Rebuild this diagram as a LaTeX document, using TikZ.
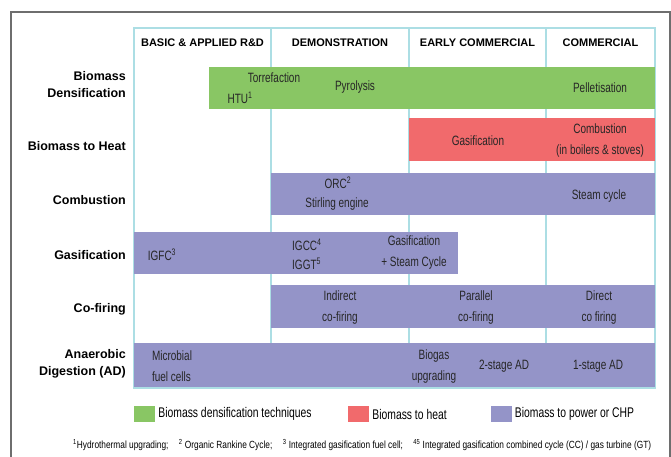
\documentclass[tikz,border=0pt]{standalone}
\usepackage{fontspec}
\setmainfont{Liberation Sans}
\newfontfamily\narrowsf{Liberation Sans}[FakeStretch=0.74]
\newfontfamily\notesf{Liberation Sans}[FakeStretch=0.8]
\usetikzlibrary{positioning}
\definecolor{densgreen}{RGB}{137,198,100}
\definecolor{heatred}{RGB}{241,106,108}
\definecolor{powerblue}{RGB}{148,148,200}
\definecolor{gridcyan}{RGB}{172,222,228}
\definecolor{framegray}{RGB}{110,110,110}
\begin{document}
\begin{tikzpicture}[x=1pt,y=-1pt,
  rowlabel/.style={anchor=east,align=right,inner sep=0pt,font=\bfseries\fontsize{12.5}{17}\selectfont},
  colhead/.style={inner sep=0pt,font=\bfseries\fontsize{11}{13}\selectfont},
  bartext/.style={align=center,inner sep=0pt,text=black!85,font=\narrowsf\fontsize{13.5}{21}\selectfont},
  legsq/.style={inner sep=0pt,minimum width=21pt,minimum height=16pt},
  legtext/.style={inner sep=0pt,anchor=west,font=\narrowsf\fontsize{14}{15}\selectfont}]
\useasboundingbox (0,0) rectangle (671,457);
% frame and grid
\draw[framegray,line width=1.2pt](11,457)--(11,12)--(670,12)--(670,457);
\draw[gridcyan,line width=1.6pt](134,28)rectangle(655,388);
\foreach \x in {271,409,546}
  \draw[gridcyan,line width=1.6pt](\x,28)--(\x,388);
% column heads
\node[colhead](hdrRD)    at (202.5,43){BASIC \& APPLIED R\&D};
\node[colhead](hdrDemo)  at (340,43){DEMONSTRATION};
\node[colhead](hdrEarly) at (477.5,43){EARLY COMMERCIAL};
\node[colhead](hdrComm)  at (600.5,43){COMMERCIAL};
% row labels
\node[rowlabel](lblDens)  at (126,85){Biomass\\Densification};
\node[rowlabel](lblHeat)  at (126,146){Biomass to Heat};
\node[rowlabel](lblComb)  at (126,200){Combustion};
\node[rowlabel](lblGas)   at (126,255){Gasification};
\node[rowlabel](lblCofire)at (126,309){Co-firing};
\node[rowlabel](lblAD)    at (126,364){Anaerobic\\Digestion (AD)};
% bars
\fill[densgreen](209,67)rectangle(655,109);
\fill[heatred](409,118)rectangle(655,161);
\fill[powerblue](271,173)rectangle(655,215);
\fill[powerblue](134,232)rectangle(458,274);
\fill[powerblue](271,285)rectangle(655,328);
\fill[powerblue](134,343)rectangle(655,387);
% texts on the bars
\node[bartext](torr)   at (274,78){Torrefaction};
\node[bartext](htu)    at (240,98){HTU\textsuperscript{1}};
\node[bartext](pyro)   at (355,87){Pyrolysis};
\node[bartext](pellet) at (600,88){Pelletisation};
\node[bartext](gasHeat)at (478,141){Gasification};
\node[bartext](combHeat)at(600,141){Combustion\\(in boilers \& stoves)};
\node[bartext](orc)    at (338,183){ORC\textsuperscript{2}};
\node[bartext](stirl)  at (337,204){Stirling engine};
\node[bartext](steam)  at (599,196){Steam cycle};
\node[bartext](igfc)   at (162,255){IGFC\textsuperscript{3}};
\node[bartext,anchor=west](igcc) at (292,245){IGCC\textsuperscript{4}};
\node[bartext,anchor=west](iggt) at (292,264){IGGT\textsuperscript{5}};
\node[bartext](gasSteam)at(414,253){Gasification\\+ Steam Cycle};
\node[bartext](indir)  at (340,307.5){Indirect\\co-firing};
\node[bartext](parall) at (476,307.5){Parallel\\co-firing};
\node[bartext](direct) at (599,307.5){Direct\\co firing};
\node[bartext,align=left](microb) at (172,366){Microbial\\fuel cells};
\node[bartext](biogas) at (434,366.5){Biogas\\upgrading};
\node[bartext](twoAD)  at (504,366){2-stage AD};
\node[bartext](oneAD)  at (598,366){1-stage AD};
% legend
\node[legsq,fill=densgreen](sqDens) at (144.5,414){};
\node[legtext,right=3pt of sqDens](legDens){Biomass densification techniques};
\node[legsq,fill=heatred](sqHeat) at (358.5,414){};
\node[legtext,right=3pt of sqHeat](legHeat){Biomass to heat};
\node[legsq,fill=powerblue](sqPower) at (501,414){};
\node[legtext,right=3pt of sqPower](legPower){Biomass to power or CHP};
% footnote
\node[inner sep=0pt,anchor=west,font=\notesf\fontsize{10.4}{12}\selectfont](notes) at (73,445)
  {\textsuperscript{1}Hydrothermal upgrading;\quad \textsuperscript{2} Organic Rankine Cycle;\quad
   \textsuperscript{3} Integrated gasification fuel cell;\quad \textsuperscript{45} Integrated gasification combined cycle (CC) / gas turbine (GT)};
\end{tikzpicture}
\end{document}
